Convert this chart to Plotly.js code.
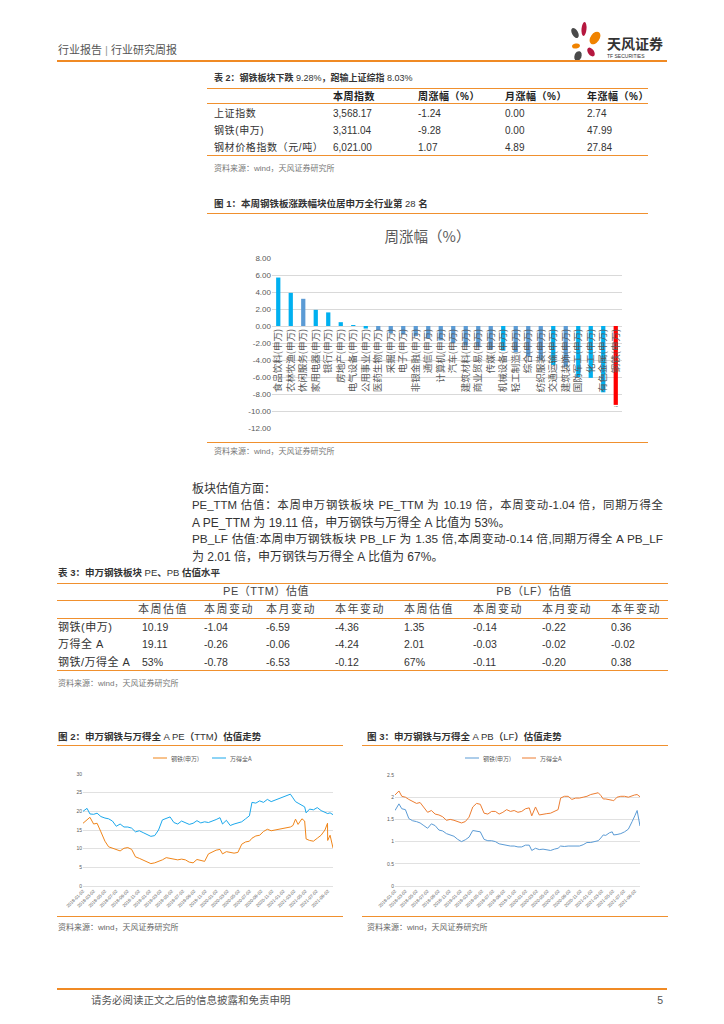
<!DOCTYPE html>
<html><head><meta charset="utf-8">
<script src="https://cdn.plot.ly/plotly-3.0.1.min.js"></script>
<style>
html,body{margin:0;padding:0;background:#fff;}
#page{position:relative;width:724px;height:1024px;overflow:hidden;font-family:"Liberation Sans","Noto Sans CJK SC",sans-serif;color:#333;}
.t{position:absolute;white-space:nowrap;line-height:1;}
.t.just{width:471px;white-space:normal;text-align:justify;text-align-last:justify;text-justify:inter-character;}
.hl{position:absolute;height:0;}
.pl{position:absolute;}
</style></head><body><div id="page">
<svg width="724" height="80" style="position:absolute;left:0;top:0">
<ellipse cx="575" cy="33" rx="3" ry="5.5" fill="#4A4A4A" transform="rotate(-30 575 33)"/>
<ellipse cx="584" cy="29" rx="2.5" ry="7" fill="#B5173F" transform="rotate(5 584 29)"/>
<ellipse cx="595" cy="38" rx="4.5" ry="7" fill="#F08300" transform="rotate(35 595 38)"/>
<ellipse cx="576" cy="46" rx="4" ry="2.5" fill="#F08300" transform="rotate(-10 576 46)"/>
<ellipse cx="591" cy="52" rx="3" ry="5" fill="#B5173F" transform="rotate(-35 591 52)"/>
<ellipse cx="578" cy="56" rx="3.5" ry="5" fill="#4A4A4A" transform="rotate(20 578 56)"/>
</svg>
<div class="pl" id="fig1" style="left:207px;top:218px;width:441px;height:225px"></div>
<div class="pl" id="fig2" style="left:57px;top:748px;width:287px;height:168px"></div>
<div class="pl" id="fig3" style="left:362px;top:748px;width:306px;height:168px"></div>
</div>
<script>
// ---------------- DATA ----------------
var t2Cols = ['本周指数', '周涨幅（%）', '月涨幅（%）', '年涨幅（%）'];
var t2Names = ['上证指数', '钢铁(申万)', '钢材价格指数（元/吨）'];
var t2Index = ['3,568.17', '3,311.04', '6,021.00'];
var t2Week = ['-1.24', '-9.28', '1.07'];
var t2Month = ['0.00', '0.00', '4.89'];
var t2Year = ['2.74', '47.99', '27.84'];

var industries = ['食品饮料','农林牧渔','休闲服务','家用电器','银行','房地产','电气设备','公用事业','医药生物','采掘','电子','非银金融','通信','计算机','汽车','建筑材料','商业贸易','传媒','机械设备','轻工制造','综合','纺织服装','交通运输','建筑装饰','国防军工','化工','有色金属','钢铁'];
var weeklyChange = [5.70,3.90,3.20,1.90,1.60,0.45,0.12,-0.30,-0.50,-0.85,-1.00,-1.20,-1.50,-1.70,-2.00,-2.30,-2.50,-2.70,-2.90,-3.10,-3.60,-4.00,-4.60,-4.80,-6.00,-6.10,-7.80,-9.28];

var t3Groups = ['PE（TTM）估值', 'PB（LF）估值'];
var t3Cols = ['本周估值', '本周变动', '本月变动', '本年变动'];
var t3Names = ['钢铁(申万)', '万得全 A', '钢铁/万得全 A'];
var pePeriod = ['10.19', '19.11', '53%'];
var peWeek = ['-1.04', '-0.26', '-0.78'];
var peMonth = ['-6.59', '-0.06', '-6.53'];
var peYear = ['-4.36', '-4.24', '-0.12'];
var pbPeriod = ['1.35', '2.01', '67%'];
var pbWeek = ['-0.14', '-0.03', '-0.11'];
var pbMonth = ['-0.22', '-0.02', '-0.20'];
var pbYear = ['0.36', '-0.02', '0.38'];

var valDates = ['2018-01-02','2018-01-24','2018-02-09','2018-03-01','2018-03-20','2018-04-10','2018-05-02','2018-05-22','2018-06-12','2018-07-03','2018-07-24','2018-08-14','2018-09-04','2018-09-25','2018-10-16','2018-11-06','2018-11-27','2018-12-18','2019-01-08','2019-01-29','2019-02-19','2019-03-12','2019-04-02','2019-04-23','2019-05-14','2019-06-04','2019-06-25','2019-07-16','2019-08-06','2019-08-27','2019-09-17','2019-10-08','2019-10-29','2019-11-19','2019-12-10','2019-12-31','2020-01-21','2020-02-04','2020-02-25','2020-03-17','2020-04-07','2020-04-28','2020-05-19','2020-06-09','2020-06-30','2020-07-14','2020-08-04','2020-08-25','2020-09-15','2020-10-06','2020-10-27','2020-11-17','2020-12-08','2020-12-29','2021-01-19','2021-02-09','2021-02-23','2021-03-09','2021-03-23','2021-04-13','2021-04-28','2021-05-06','2021-05-25','2021-06-15','2021-07-06','2021-07-27','2021-08-17','2021-08-31','2021-09-01','2021-09-14','2021-09-30'];
var steelPE = [16.8,17.8,18.4,16.6,16.8,14.5,12.0,10.5,10.2,9.7,9.4,10.1,10.3,9.8,7.8,7.4,6.9,6.4,6.0,6.2,6.5,7.0,7.6,7.4,7.1,7.0,7.2,7.0,6.4,6.2,7.1,6.9,6.6,8.6,9.2,9.6,9.8,8.6,9.2,9.0,8.8,9.0,11.2,11.8,12.0,12.8,13.4,13.6,14.6,15.2,14.8,15.0,15.2,15.4,15.8,15.8,16.2,17.9,16.5,18.0,17.4,12.6,12.2,12.0,12.8,13.6,15.0,16.8,12.2,13.6,10.19];
var allAPE = [20.0,20.8,19.3,19.2,19.5,18.6,18.2,18.0,17.4,16.0,16.6,15.8,15.8,15.5,14.5,14.8,14.3,13.8,13.3,13.5,15.0,17.7,18.2,18.5,17.0,16.6,17.4,17.0,16.5,16.8,17.5,16.9,17.2,17.0,17.3,17.8,18.3,16.6,17.6,16.2,16.6,17.0,17.2,18.0,18.8,22.4,22.2,22.8,22.4,23.2,22.6,23.0,23.4,23.6,24.2,24.6,23.6,22.6,22.2,21.6,21.2,19.6,20.6,20.4,21.0,20.2,19.8,19.6,19.4,19.6,19.11];
var steelPB = [1.70,1.85,1.74,1.72,1.52,1.47,1.45,1.42,1.36,1.30,1.40,1.36,1.26,1.24,1.18,1.15,1.12,1.05,1.00,1.04,1.10,1.25,1.24,1.22,1.05,1.02,1.02,1.00,0.95,0.93,0.92,0.90,0.90,0.88,0.88,0.92,0.92,0.80,0.85,0.82,0.83,0.82,0.80,0.83,0.85,0.90,0.89,0.90,0.90,0.90,0.90,0.93,0.98,0.98,1.00,1.02,1.08,1.15,1.14,1.20,1.22,1.15,1.16,1.18,1.22,1.28,1.45,1.55,1.58,1.70,1.35];
var allAPB = [2.05,2.14,2.02,2.00,1.95,1.90,1.86,1.88,1.78,1.66,1.70,1.62,1.60,1.56,1.48,1.50,1.48,1.45,1.42,1.45,1.55,1.78,1.86,1.84,1.64,1.62,1.68,1.68,1.62,1.66,1.72,1.68,1.70,1.66,1.68,1.74,1.76,1.58,1.78,1.60,1.62,1.63,1.64,1.68,1.72,1.98,2.02,2.02,1.95,1.98,1.98,2.00,2.02,2.06,2.08,2.10,2.04,1.96,1.96,1.95,1.93,1.92,2.00,2.02,2.02,2.00,2.04,2.05,2.05,2.06,2.01];

// ---------------- STYLE ----------------
var ORANGE = '#F0902E';
var barPalette = ['#00B0F0','#00B0F0','#5B9BD5','#00B0F0','#00B0F0','#00B0F0','#00B0F0','#00B0F0','#5B9BD5','#5B9BD5','#5B9BD5','#5B9BD5','#5B9BD5','#5B9BD5','#5B9BD5','#5B9BD5','#5B9BD5','#5B9BD5','#00B0F0','#5B9BD5','#5B9BD5','#5B9BD5','#00B0F0','#5B9BD5','#00B0F0','#00B0F0','#00B0F0','#FF0000'];

var page = document.getElementById('page');
function T(x, y, s, o) {
  o = o || {};
  var d = document.createElement('div');
  d.className = 't' + (o.cls ? ' ' + o.cls : '');
  var fs = o.size || 10;
  d.style.fontSize = fs + 'px';
  d.style.top = (y - fs * 0.5) + 'px';
  d.style.color = o.color || '#333';
  if (o.weight) d.style.fontWeight = o.weight;
  if (o.ls) d.style.letterSpacing = o.ls + 'px';
  if (o.anchor === 'middle') { d.style.left = x + 'px'; d.style.transform = 'translateX(-50%)'; }
  else if (o.anchor === 'end') { d.style.right = (724 - x) + 'px'; }
  else d.style.left = x + 'px';
  if (o.html) d.innerHTML = s; else d.textContent = s;
  page.appendChild(d);
  return d;
}
function L(x1, x2, y, w, c) {
  var d = document.createElement('div');
  d.className = 'hl';
  d.style.left = x1 + 'px'; d.style.width = (x2 - x1) + 'px';
  d.style.top = (y - w / 2) + 'px';
  d.style.borderTop = w + 'px solid ' + (c || ORANGE);
  page.appendChild(d);
}

// header
T(58, 50, '行业报告 <span style="color:#999">|</span> 行业研究周报', {size: 11, color: '#555', html: true});
L(57, 667, 61, 2, '#F08A24');
T(607, 44, '天风证券', {size: 14, weight: 'bold', color: '#333'});
T(607, 56, 'TF SECURITIES', {size: 5, color: '#333'});

// table 2
T(214, 78, '表 2：钢铁板块下跌 <span style="font-weight:normal">9.28%</span>，跑输上证综指 <span style="font-weight:normal">8.03%</span>', {size: 9, weight: 'bold', color: '#333', html: true});
L(207, 648, 88.5, 1.5);
var t2x = [333, 418, 505, 587];
t2Cols.forEach(function (c, i) { T(t2x[i], 97, c, {size: 10, weight: 'bold', color: '#222', ls: 0.5}); });
L(207, 648, 103, 1);
var t2y = [114, 131, 148];
t2Names.forEach(function (n, r) {
  T(214, t2y[r], n, {size: 10, color: '#333', ls: 0.6});
  T(t2x[0], t2y[r], t2Index[r], {size: 10});
  T(t2x[1], t2y[r], t2Week[r], {size: 10});
  T(t2x[2], t2y[r], t2Month[r], {size: 10});
  T(t2x[3], t2y[r], t2Year[r], {size: 10});
});
L(207, 648, 156, 1.2);
T(214, 169, '资料来源：wind，天风证券研究所', {size: 8, color: '#777'});

// figure 1 heading
T(214, 204, '图 1：本周钢铁板涨跌幅块位居申万全行业第 <span style="font-weight:normal">28</span> 名', {size: 9.5, weight: 'bold', color: '#333', html: true});
L(207, 648, 214, 1.2);
L(207, 648, 443, 1.2);
T(214, 452, '资料来源：wind，天风证券研究所', {size: 8, color: '#777'});

// paragraphs
var pStyle = {size: 12, color: '#333'};
T(192, 489, '板块估值方面：', pStyle);
T(192, 506, 'PE_TTM 估值：本周申万钢铁板块 PE_TTM 为 10.19 倍，本周变动-1.04 倍，同期万得全', {size: 11.4, color: '#333', cls: 'just'});
T(192, 523, 'A PE_TTM 为 19.11 倍，申万钢铁与万得全 A 比值为 53%。', pStyle);
T(192, 540, 'PB_LF 估值:本周申万钢铁板块 PB_LF 为 1.35 倍,本周变动-0.14 倍,同期万得全 A PB_LF', {size: 11.8, color: '#333', cls: 'just'});
T(192, 557, '为 2.01 倍，申万钢铁与万得全 A 比值为 67%。', pStyle);

// table 3
T(58, 573, '表 3：申万钢铁板块 <span style="font-weight:normal">PE</span>、<span style="font-weight:normal">PB</span> 估值水平', {size: 9.5, weight: 'bold', color: '#333', html: true});
L(57, 668, 583.5, 1.5);
T(266, 591, t3Groups[0], {size: 11, color: '#444', anchor: 'middle', ls: 0.5});
T(534, 591, t3Groups[1], {size: 11, color: '#444', anchor: 'middle', ls: 0.5});
L(57, 668, 600, 1);
var t3x = [138, 204, 266, 335, 404, 473, 542, 611];
for (var g = 0; g < 2; g++) t3Cols.forEach(function (c, i) { T(t3x[g * 4 + i], 609, c, {size: 11, color: '#444', ls: 1.5}); });
L(57, 668, 618, 1);
var t3y = [627, 644.5, 662];
var t3data = [pePeriod, peWeek, peMonth, peYear, pbPeriod, pbWeek, pbMonth, pbYear];
t3Names.forEach(function (n, r) {
  T(58, t3y[r], n, {size: 11, color: '#333', ls: 0.5});
  t3data.forEach(function (col, c) { T(t3x[c] + (c === 0 ? 4 : 0), t3y[r], col[r], {size: 10.5, color: '#333'}); });
});
L(57, 668, 671, 1.2);
T(58, 684, '资料来源：wind，天风证券研究所', {size: 8, color: '#777'});

// figure 2/3 headings
T(58, 737, '图 2：申万钢铁与万得全 <span style="font-weight:normal">A PE</span>（<span style="font-weight:normal">TTM</span>）估值走势', {size: 9.5, weight: 'bold', color: '#333', html: true});
L(57, 343, 746, 1.2);
L(57, 343, 917, 1.2);
T(58, 928, '资料来源：wind，天风证券研究所', {size: 8, color: '#666'});
T(367, 737, '图 3：申万钢铁与万得全 <span style="font-weight:normal">A PB</span>（<span style="font-weight:normal">LF</span>）估值走势', {size: 9.5, weight: 'bold', color: '#333', html: true});
L(362, 668, 746, 1.2);
L(362, 668, 917, 1.2);
T(367, 928, '资料来源：wind，天风证券研究所', {size: 8, color: '#666'});

// footer
L(57, 667, 989, 2, '#F08A24');
T(91, 1000, '请务必阅读正文之后的信息披露和免责申明', {size: 10.5, color: '#555'});
T(663, 1000, '5', {size: 10.5, color: '#555', anchor: 'end'});

// ---------------- CHARTS ----------------
var FONT = 'Liberation Sans, Noto Sans CJK SC, sans-serif';
var cfg = {staticPlot: true, displayModeBar: false};

// Figure 1: bar chart
var barLabels = industries.map(function (n) { return n + '(申万)'; });
var yTicks = [8, 6, 4, 2, 0, -2, -4, -6, -8, -10, -12];
Plotly.newPlot('fig1', [{
  type: 'bar', x: barLabels, y: weeklyChange,
  marker: {color: barPalette},
  width: 0.34,
  text: weeklyChange.map(function (v, i) { return industries[i] === '钢铁' ? v.toFixed(2) : ''; }),
  textposition: 'outside', cliponaxis: false,
  textfont: {family: FONT, size: 9, color: '#404040'},
  hoverinfo: 'none'
}], {
  width: 441, height: 225,
  margin: {l: 65, r: 26, t: 40, b: 15},
  paper_bgcolor: 'rgba(0,0,0,0)', plot_bgcolor: 'rgba(0,0,0,0)',
  title: {text: '周涨幅（%）', font: {family: 'Noto Sans CJK SC', size: 14.5, color: '#595959'}, x: 0.5, xanchor: 'center', y: 1 - 19 / 225, yanchor: 'middle', yref: 'container'},
  showlegend: false,
  xaxis: {type: 'category', anchor: 'free', position: 0.6, tickangle: -90, showgrid: false, showline: false, ticks: '', automargin: false,
    tickfont: {family: 'Noto Sans CJK SC', size: 9.5, color: '#595959'}},
  yaxis: {range: [-12, 8], tickvals: yTicks, ticktext: yTicks.map(function (v) { return v.toFixed(2); }),
    gridcolor: '#D9D9D9', gridwidth: 1, zeroline: false, showline: false, ticks: '', automargin: false,
    tickfont: {family: FONT, size: 8, color: '#595959'}}
}, cfg);

function lineLayout(w, h, m, yr, ydt, legend) {
  var shapes = [], ann = [];
  legend.forEach(function (it) {
    shapes.push({type: 'line', xref: 'paper', yref: 'paper', x0: it.x0, x1: it.x1, y0: it.y, y1: it.y, line: {color: it.color, width: 1}});
    ann.push({xref: 'paper', yref: 'paper', x: it.x1 + 0.008, y: it.y, xanchor: 'left', yanchor: 'middle', text: it.text, showarrow: false,
      font: {family: 'Noto Sans CJK SC', size: 6, color: '#595959'}});
  });
  return {
    width: w, height: h, margin: m, showlegend: false,
    paper_bgcolor: 'rgba(0,0,0,0)', plot_bgcolor: 'rgba(0,0,0,0)',
    shapes: shapes, annotations: ann,
    xaxis: {type: 'date', range: ['2018-01-02', '2021-09-30'], tick0: '2018-01-02', dtick: 'M2', tickformat: '%Y-%m-%d',
      tickangle: -45, showgrid: false, showline: true, linecolor: '#D9D9D9', linewidth: 0.8, ticks: '', automargin: false,
      tickfont: {family: FONT, size: 4.5, color: '#595959'}},
    yaxis: {range: yr, dtick: ydt, gridcolor: '#D9D9D9', gridwidth: 0.8, zeroline: false, showline: false, ticks: '', automargin: false,
      tickfont: {family: FONT, size: 5, color: '#595959'}}
  };
}

Plotly.newPlot('fig2', [
  {type: 'scatter', mode: 'lines', x: valDates, y: steelPE, name: '钢铁(申万)', line: {color: '#F08519', width: 1}, hoverinfo: 'none'},
  {type: 'scatter', mode: 'lines', x: valDates, y: allAPE, name: '万得全A', line: {color: '#1BA8EC', width: 1}, hoverinfo: 'none'}
], lineLayout(287, 168, {l: 26, r: 11, t: 26, b: 30}, [0, 30], 5, [
  {x0: (153 - 83) / 250, x1: (167 - 83) / 250, y: (886 - 758) / 112, color: '#F08519', text: '钢铁(申万)'},
  {x0: (212 - 83) / 250, x1: (226 - 83) / 250, y: (886 - 758) / 112, color: '#1BA8EC', text: '万得全A'}
]), cfg);

Plotly.newPlot('fig3', [
  {type: 'scatter', mode: 'lines', x: valDates, y: steelPB, name: '钢铁(申万)', line: {color: '#5B9BD5', width: 1}, hoverinfo: 'none'},
  {type: 'scatter', mode: 'lines', x: valDates, y: allAPB, name: '万得全A', line: {color: '#ED7D31', width: 1}, hoverinfo: 'none'}
], lineLayout(306, 168, {l: 33, r: 28, t: 27, b: 30}, [0, 2.5], 0.5, [
  {x0: (465 - 395) / 245, x1: (479 - 395) / 245, y: (886 - 758) / 111, color: '#5B9BD5', text: '钢铁(申万)'},
  {x0: (522 - 395) / 245, x1: (536 - 395) / 245, y: (886 - 758) / 111, color: '#ED7D31', text: '万得全A'}
]), cfg);
</script>
</body></html>
